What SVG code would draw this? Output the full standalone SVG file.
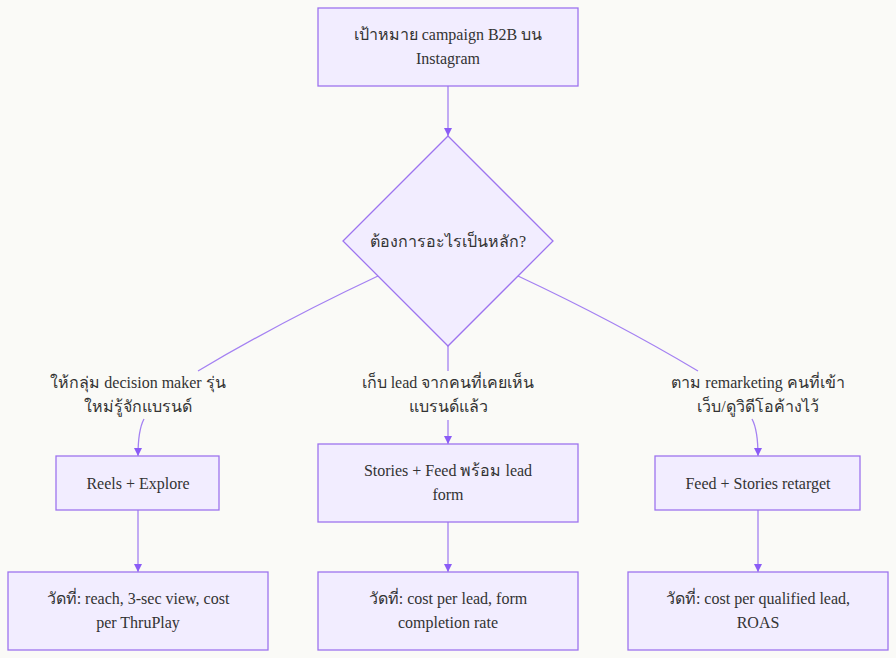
<svg xmlns="http://www.w3.org/2000/svg" width="896" height="658" viewBox="0 0 896 658">
<defs>
<marker id="arr" viewBox="0 0 10 10" refX="10" refY="5" markerWidth="8" markerHeight="8" markerUnits="userSpaceOnUse" orient="auto">
<path d="M0,0 L10,5 L0,10 z" fill="#8b5cf6"/>
</marker>
<style>
.n{fill:#f2edff;stroke:#9d74ef;stroke-width:1.3}
.t{font-family:"Liberation Serif","Times New Roman",serif;font-size:16px;fill:#333;text-anchor:middle;dominant-baseline:central}
.e{fill:none;stroke:#a481f2;stroke-width:1.3}
</style>
</defs>
<rect width="896" height="658" fill="#fafaf7"/>
<g id="connectors">
<path class="e" d="M448,86 L448,136" marker-end="url(#arr)"/>
<path class="e" d="M378,276 Q280,322 198,371"/>
<path class="e" d="M448,346 L448,371"/>
<path class="e" d="M518,276 Q616,322 698,371"/>
<path class="e" d="M144,419 Q138,430 138,456" marker-end="url(#arr)"/>
<path class="e" d="M448,420 L448,444" marker-end="url(#arr)"/>
<path class="e" d="M752,419 Q758,430 758,456" marker-end="url(#arr)"/>
<path class="e" d="M138,510 L138,572" marker-end="url(#arr)"/>
<path class="e" d="M448,522 L448,572" marker-end="url(#arr)"/>
<path class="e" d="M758,510 L758,572" marker-end="url(#arr)"/>
</g>
<g id="labels">
<text class="t" x="138" y="382">ให้กลุ่ม decision maker รุ่น</text>
<text class="t" x="138" y="406">ใหม่รู้จักแบรนด์</text>
<text class="t" x="448" y="382">เก็บ lead จากคนที่เคยเห็น</text>
<text class="t" x="448" y="406">แบรนด์แล้ว</text>
<text class="t" x="758" y="382">ตาม remarketing คนที่เข้า</text>
<text class="t" x="758" y="406">เว็บ/ดูวิดีโอค้างไว้</text>
</g>
<g id="goal">
<rect class="n" x="318" y="8" width="260" height="78"/>
<text class="t" x="448" y="34">เป้าหมาย campaign B2B บน</text>
<text class="t" x="448" y="58">Instagram</text>
</g>
<g id="decision">
<polygon class="n" points="448,136 553,241 448,346 343,241"/>
<text class="t" x="448" y="241">ต้องการอะไรเป็นหลัก?</text>
</g>
<g id="reels">
<rect class="n" x="56" y="456" width="163" height="54"/>
<text class="t" x="138" y="483">Reels + Explore</text>
</g>
<g id="stories">
<rect class="n" x="318" y="444" width="260" height="78"/>
<text class="t" x="448" y="470">Stories + Feed พร้อม lead</text>
<text class="t" x="448" y="494">form</text>
</g>
<g id="retarget">
<rect class="n" x="655" y="456" width="205" height="54"/>
<text class="t" x="758" y="483">Feed + Stories retarget</text>
</g>
<g id="m1">
<rect class="n" x="8" y="572" width="260" height="78"/>
<text class="t" x="138" y="598">วัดที่: reach, 3-sec view, cost</text>
<text class="t" x="138" y="622">per ThruPlay</text>
</g>
<g id="m2">
<rect class="n" x="318" y="572" width="260" height="78"/>
<text class="t" x="448" y="598">วัดที่: cost per lead, form</text>
<text class="t" x="448" y="622">completion rate</text>
</g>
<g id="m3">
<rect class="n" x="628" y="572" width="260" height="78"/>
<text class="t" x="758" y="598">วัดที่: cost per qualified lead,</text>
<text class="t" x="758" y="622">ROAS</text>
</g>
</svg>
